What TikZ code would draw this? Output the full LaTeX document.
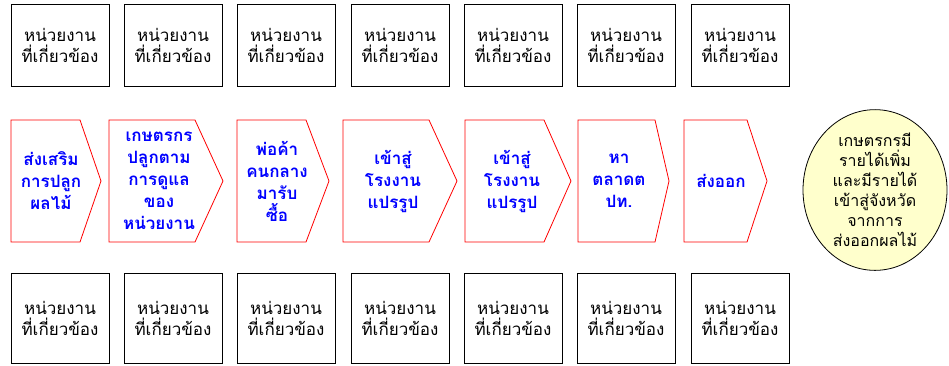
\documentclass[tikz,border=0pt]{standalone}
\usepackage{fontspec}
\setmainfont[Script=Thai]{Loma}
\usetikzlibrary{shapes.geometric}
\definecolor{chevblue}{RGB}{0,0,255}
\definecolor{ellfill}{RGB}{255,255,204}
\newcommand\chevshape[3]{\draw[chev] (#1,120) -- (#2,120) -- (#3,181) -- (#2,242) -- (#1,242) -- cycle;}
\begin{document}
\begin{tikzpicture}[x=1pt,y=-1pt,
 unitbox/.style={draw=black, line width=0.8pt, minimum width=98pt, inner sep=0pt, align=center, font=\fontsize{17}{21}\selectfont},
 topbox/.style={unitbox, minimum height=82pt},
 botbox/.style={unitbox, minimum height=90pt},
 chevtext/.style={align=center, text=chevblue, inner sep=0pt, font=\bfseries\fontsize{17}{22}\selectfont},
 chev/.style={draw=red, line width=0.8pt, fill=white},
 goal/.style={ellipse, draw=black, line width=0.8pt, fill=ellfill, minimum width=144pt, minimum height=148pt, inner sep=0pt, align=center, font=\fontsize{16}{20}\selectfont}]
\useasboundingbox (0,0) rectangle (949,365);
% top and bottom rows
\foreach \x [count=\i] in {60,173,286,400,513,626,740}{
  \node[topbox] (t\i) at (\x,45) {หน่วยงาน\\ที่เกี่ยวข้อง};
  \node[botbox] (b\i) at (\x,318) {หน่วยงาน\\ที่เกี่ยวข้อง};
}
% chevrons
\chevshape{11}{80}{101}
\chevshape{109}{195}{223}
\chevshape{237}{306}{329}
\chevshape{343}{429}{457}
\chevshape{465}{544}{571}
\chevshape{578}{655}{669}
\chevshape{684}{747}{767}
\node[chevtext] (c1) at (51,181) {ส่งเสริม\\การปลูก\\ผลไม้};
\node[chevtext] (c2) at (159,181) {เกษตรกร\\ปลูกตาม\\การดูแล\\ของ\\หน่วยงาน};
\node[chevtext] (c3) at (277,181) {พ่อค้า\\คนกลาง\\มารับ\\ซื้อ};
\node[chevtext] (c4) at (393,181) {เข้าสู่\\โรงงาน\\แปรรูป};
\node[chevtext] (c5) at (512,181) {เข้าสู่\\โรงงาน\\แปรรูป};
\node[chevtext] (c6) at (619,181) {หา\\ตลาดต\\ปท.};
\node[chevtext] (c7) at (721,181) {ส่งออก};
\node[goal] (g) at (875,190) {เกษตรกรมี\\รายได้เพิ่ม\\และมีรายได้\\เข้าสู่จังหวัด\\จากการ\\ส่งออกผลไม้};
\end{tikzpicture}
\end{document}
